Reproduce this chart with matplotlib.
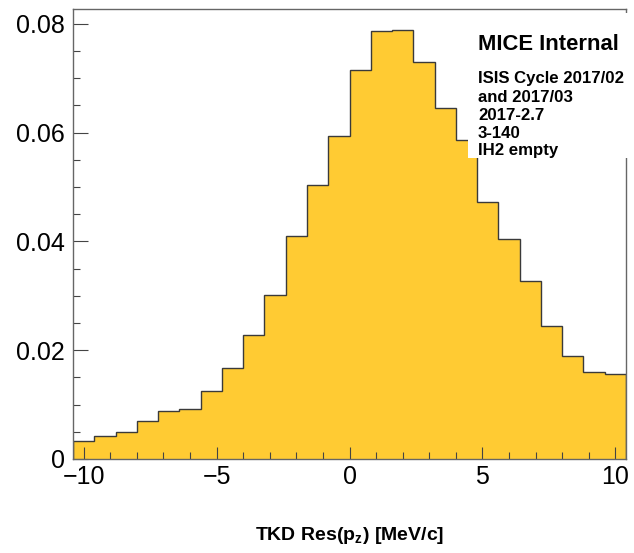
import numpy as np
import matplotlib
matplotlib.use("Agg")
import matplotlib.pyplot as plt
from matplotlib.patches import Rectangle
from matplotlib.ticker import MultipleLocator

plt.rcParams["font.family"] = ["Liberation Sans", "DejaVu Sans"]
plt.rcParams["mathtext.fontset"] = "custom"
plt.rcParams["mathtext.rm"] = "Liberation Sans:bold"
plt.rcParams["mathtext.it"] = "Liberation Sans:bold"
plt.rcParams["mathtext.bf"] = "Liberation Sans:bold"

# ---- histogram data (26 bins, width 0.8 MeV/c) ---------------------------
bin_edges = np.linspace(-10.4, 10.4, 27)
counts = [0.0033, 0.0042, 0.0049, 0.0069, 0.0089, 0.0091, 0.0125, 0.0168,
          0.0228, 0.0301, 0.0410, 0.0504, 0.0594, 0.0714, 0.0787, 0.0788,
          0.0730, 0.0645, 0.0586, 0.0472, 0.0404, 0.0327, 0.0244, 0.0189,
          0.0159, 0.0157]

x_ticks = [-10, -5, 0, 5, 10]
x_labels = ["\u221210", "\u22125", "0", "5", "10"]
y_ticks = [0, 0.02, 0.04, 0.06, 0.08]
y_labels = ["0", "0.02", "0.04", "0.06", "0.08"]

info_title = "MICE Internal"
info_lines = ["ISIS Cycle 2017/02", "and 2017/03", "2017-2.7", "3-140", "IH2 empty"]

W, H = 634, 553
fig = plt.figure(figsize=(W / 100, H / 100), dpi=100)
ax = fig.add_axes([73 / W, 1 - 459 / H, (626 - 73) / W, (459 - 9) / H])

ax.stairs(counts, bin_edges, fill=True, color="#FFCB33", lw=0)
ax.stairs(counts, bin_edges, color="#3a3a3a", lw=1.0)

ax.set_xlim(-10.4, 10.4)
ax.set_ylim(0, 0.0827)

ax.set_xticks(x_ticks)
ax.set_xticklabels(x_labels)
ax.set_yticks(y_ticks)
ax.set_yticklabels(y_labels)
ax.xaxis.set_minor_locator(MultipleLocator(1))
ax.yaxis.set_minor_locator(MultipleLocator(0.005))
ax.tick_params(axis="x", which="major", direction="in", length=9, width=0.8,
               color="#444444", labelsize=18, pad=4)
ax.tick_params(axis="x", which="minor", direction="in", length=4.8, width=0.8,
               color="#444444")
ax.tick_params(axis="y", which="major", direction="in", length=11, width=0.8,
               color="#444444", labelsize=18, pad=5.8)
ax.tick_params(axis="y", which="minor", direction="in", length=5.3, width=0.8,
               color="#444444")
for s in ax.spines.values():
    s.set_color("#666666")
    s.set_linewidth(1.0)

# white text box over the histogram (as in the ROOT canvas)
box = Rectangle((468 / W, 1 - 158 / H), (630 - 468) / W, (158 - 13) / H,
                transform=fig.transFigure, facecolor="white", edgecolor="none",
                zorder=5)
fig.patches.append(box)

fig.text(478 / W, 1 - 50 / H, info_title, fontsize=15.8, fontweight="bold",
         va="baseline", ha="left", zorder=6)
baselines = [83.3, 101.7, 120, 137.7, 155]
for txt, yb in zip(info_lines, baselines):
    fig.text(478 / W, 1 - yb / H, txt, fontsize=12.1, fontweight="bold",
             va="baseline", ha="left", zorder=6)

fig.text(349.5 / W, 1 - 540 / H, r"TKD Res(p$_{z}$) [MeV/c]", fontsize=14,
         fontweight="bold", va="baseline", ha="center")

fig.savefig("out.png", dpi=100)
